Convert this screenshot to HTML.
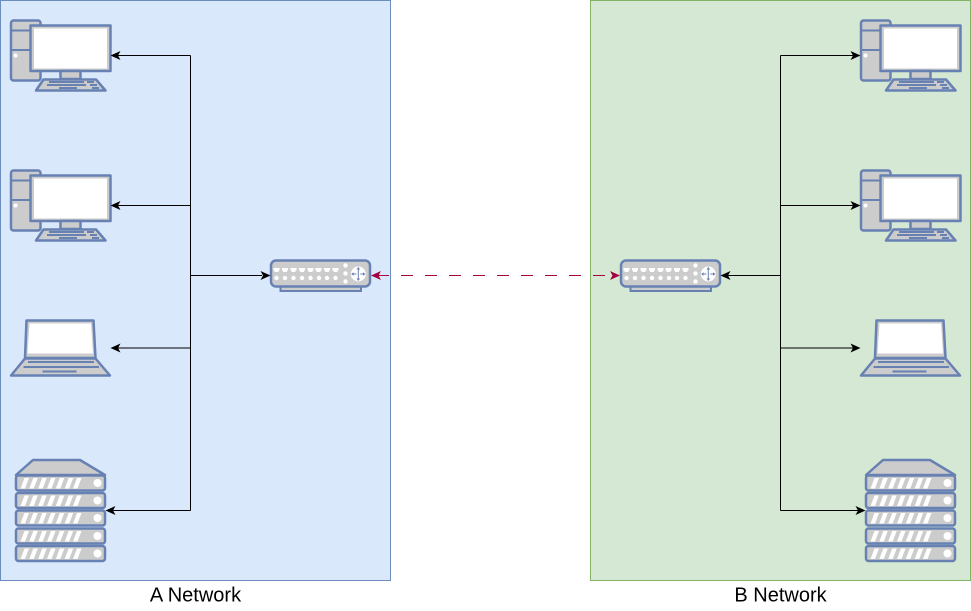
<!DOCTYPE html>
<html><head><meta charset="utf-8"><style>html,body{margin:0;padding:0;background:#fff}svg{display:block}</style></head><body>
<svg xmlns="http://www.w3.org/2000/svg" width="971" height="611" viewBox="0 0 971 611">
<defs>
<g id="pc" stroke="#6881B3" stroke-width="2.5" stroke-linejoin="round">
<rect x="11" y="20.500" width="29.500" height="60" rx="2.500" fill="#ccc"/>
<path d="M11 30.500H40M11 50H40" fill="none" stroke-width="2"/>
<circle cx="15.500" cy="55.500" r="2" fill="#fff" stroke="none"/>
<rect x="30.500" y="25.500" width="80" height="45.500" fill="#ccc"/>
<rect x="34" y="28.500" width="73" height="40" fill="#fff" stroke="none"/>
<rect x="60.500" y="71" width="20" height="8" fill="#ccc"/>
<path d="M43.500 79.500H96L105.500 90.500H36Z" fill="#ccc"/>
<path d="M49 82H84M87 82H94M47 85H86M90 85H97M59 88H77M92 88H99" fill="none" stroke-width="2"/>
</g>
<g id="laptop" stroke="#6881B3" stroke-width="2.500" stroke-linejoin="round">
<path d="M26.500 320.500H93.500L95.500 358H25Z" fill="#ccc"/>
<path d="M29.500 323.500H91L93 353.500H27.500Z" fill="#fff" stroke="none"/>
<path d="M25 358.500H95.500L110 375.500H11Z" fill="#ccc"/>
<path d="M28 362H94M23.500 367H99M42.500 371.500H76.500" fill="none" stroke-width="2"/>
</g>
<g id="srvunit">
<rect x="16" y="0" width="89" height="15" rx="2.500" fill="#ccc" stroke="#6881B3" stroke-width="2.500"/>
<path d="M24.500 2.500h4.500l-4 10.500h-4.500zM33.300 2.500h4.500l-4 10.500h-4.500zM42.200 2.500h4.500l-4 10.500h-4.500zM51 2.500h4.500l-4 10.500h-4.500zM59.800 2.500h4.500l-4 10.500h-4.500zM68.700 2.500h4.500l-4 10.500h-4.500zM77 2.500h4.500l-4 10.500h-4.500z" fill="#fff"/>
<circle cx="97.500" cy="7.500" r="4" fill="#fff"/>
</g>
<g id="server">
<path d="M33 460H80L105 475H16Z" fill="#ccc" stroke="#6881B3" stroke-width="2.500" stroke-linejoin="round"/>
<use href="#srvunit" y="475.500"/>
<use href="#srvunit" y="493"/>
<use href="#srvunit" y="510.500"/>
<use href="#srvunit" y="528.500"/>
<use href="#srvunit" y="546"/>
</g>
<g id="router">
<rect x="280.500" y="286" width="80.500" height="5" fill="#ccc" stroke="#6881B3" stroke-width="2"/>
<rect x="271" y="260.500" width="99" height="26" rx="5" fill="#ccc" stroke="#6881B3" stroke-width="2.500"/>
<g fill="#fff">
<path d="M273.500 268h6v2.500h-1v1.500h-4v-1.500h-1zM282 268h6v2.500h-1v1.500h-4v-1.500h-1zM290.500 268h6v2.500h-1v1.500h-4v-1.500h-1zM299 268h6v2.500h-1v1.500h-4v-1.500h-1zM307.500 268h6v2.500h-1v1.500h-4v-1.500h-1zM315.500 268h6v2.500h-1v1.500h-4v-1.500h-1zM324 268h6v2.500h-1v1.500h-4v-1.500h-1zM332.500 268h6v2.500h-1v1.500h-4v-1.500h-1z"/>
<circle cx="276.500" cy="278" r="2.200"/><circle cx="285" cy="278" r="2.200"/><circle cx="293.500" cy="278" r="2.200"/><circle cx="302" cy="278" r="2.200"/><circle cx="310.500" cy="278" r="2.200"/><circle cx="319" cy="278" r="2.200"/><circle cx="327" cy="278" r="2.200"/><circle cx="335.500" cy="278" r="2.200"/>
<circle cx="345.500" cy="265.500" r="2.200"/><circle cx="345.500" cy="273.500" r="2.200"/><circle cx="345.500" cy="281.500" r="2.200"/>
<circle cx="358.300" cy="274" r="7.500"/>
</g>
<path d="M358.300 268V280M352.300 274H356.300M360.300 274H364.300" stroke="#6881B3" stroke-width="1" fill="none"/>
<path d="M358.300 267l-1.800 2.500h3.600zM358.300 281l-1.800-2.500h3.600zM351.100 274l2.500-1.800v3.600zM365.500 274l-2.500-1.800v3.600z" fill="#6881B3"/>
</g>
<path id="ah" d="M0 0L10 -4.500L7.500 0L10 4.500Z"/>
</defs>

<rect x="0.500" y="0.500" width="390" height="580" fill="#dae8fc" stroke="#6c8ebf"/>
<rect x="590.500" y="0.500" width="380" height="580" fill="#d5e8d4" stroke="#82b366"/>

<use href="#pc"/>
<use href="#pc" y="150"/>
<use href="#laptop"/>
<use href="#server"/>
<use href="#router"/>
<use href="#pc" x="850"/>
<use href="#pc" x="850" y="150"/>
<use href="#laptop" x="850"/>
<use href="#server" x="850"/>
<use href="#router" x="350"/>

<g fill="none" stroke="#000" stroke-width="1">
<path d="M190.500 55.500V510.500"/>
<path d="M118 55.500H190.500M118 205.500H190.500M118 348H190.500M113 510.500H190.500M190.500 275.500H262"/>
<path d="M780.500 55.500V510.500"/>
<path d="M780.500 55.500H853M780.500 205.500H853M780.500 348H853M780.500 510.500H858M728 275.500H780.500"/>
</g>
<path d="M377 275.500H389M401 275.500H413M425 275.500H437M449 275.500H461M473 275.500H485M497 275.500H509M521 275.500H533M545 275.500H557M569 275.500H581M593 275.500H605" fill="none" stroke="#a50040" stroke-width="1"/>

<g fill="#000">
<use href="#ah" transform="translate(110.500 55.500)"/>
<use href="#ah" transform="translate(110.500 205.500)"/>
<use href="#ah" transform="translate(110.500 348)"/>
<use href="#ah" transform="translate(105.500 510.500)"/>
<use href="#ah" transform="translate(270.500 275.500) rotate(180)"/>
<use href="#ah" transform="translate(860.500 55.500) rotate(180)"/>
<use href="#ah" transform="translate(860.500 205.500) rotate(180)"/>
<use href="#ah" transform="translate(860.500 348) rotate(180)"/>
<use href="#ah" transform="translate(865.500 510.500) rotate(180)"/>
<use href="#ah" transform="translate(720.500 275.500)"/>
</g>
<g fill="#a50040">
<use href="#ah" transform="translate(371 275.500)"/>
<use href="#ah" transform="translate(620 275.500) rotate(180)"/>
</g>

<g font-family="'Liberation Sans',Arial,sans-serif" font-size="20" fill="#000" text-anchor="middle">
<text x="195.500" y="601.500">A Network</text>
<text x="780.500" y="601.500">B Network</text>
</g>
</svg>
</body></html>
